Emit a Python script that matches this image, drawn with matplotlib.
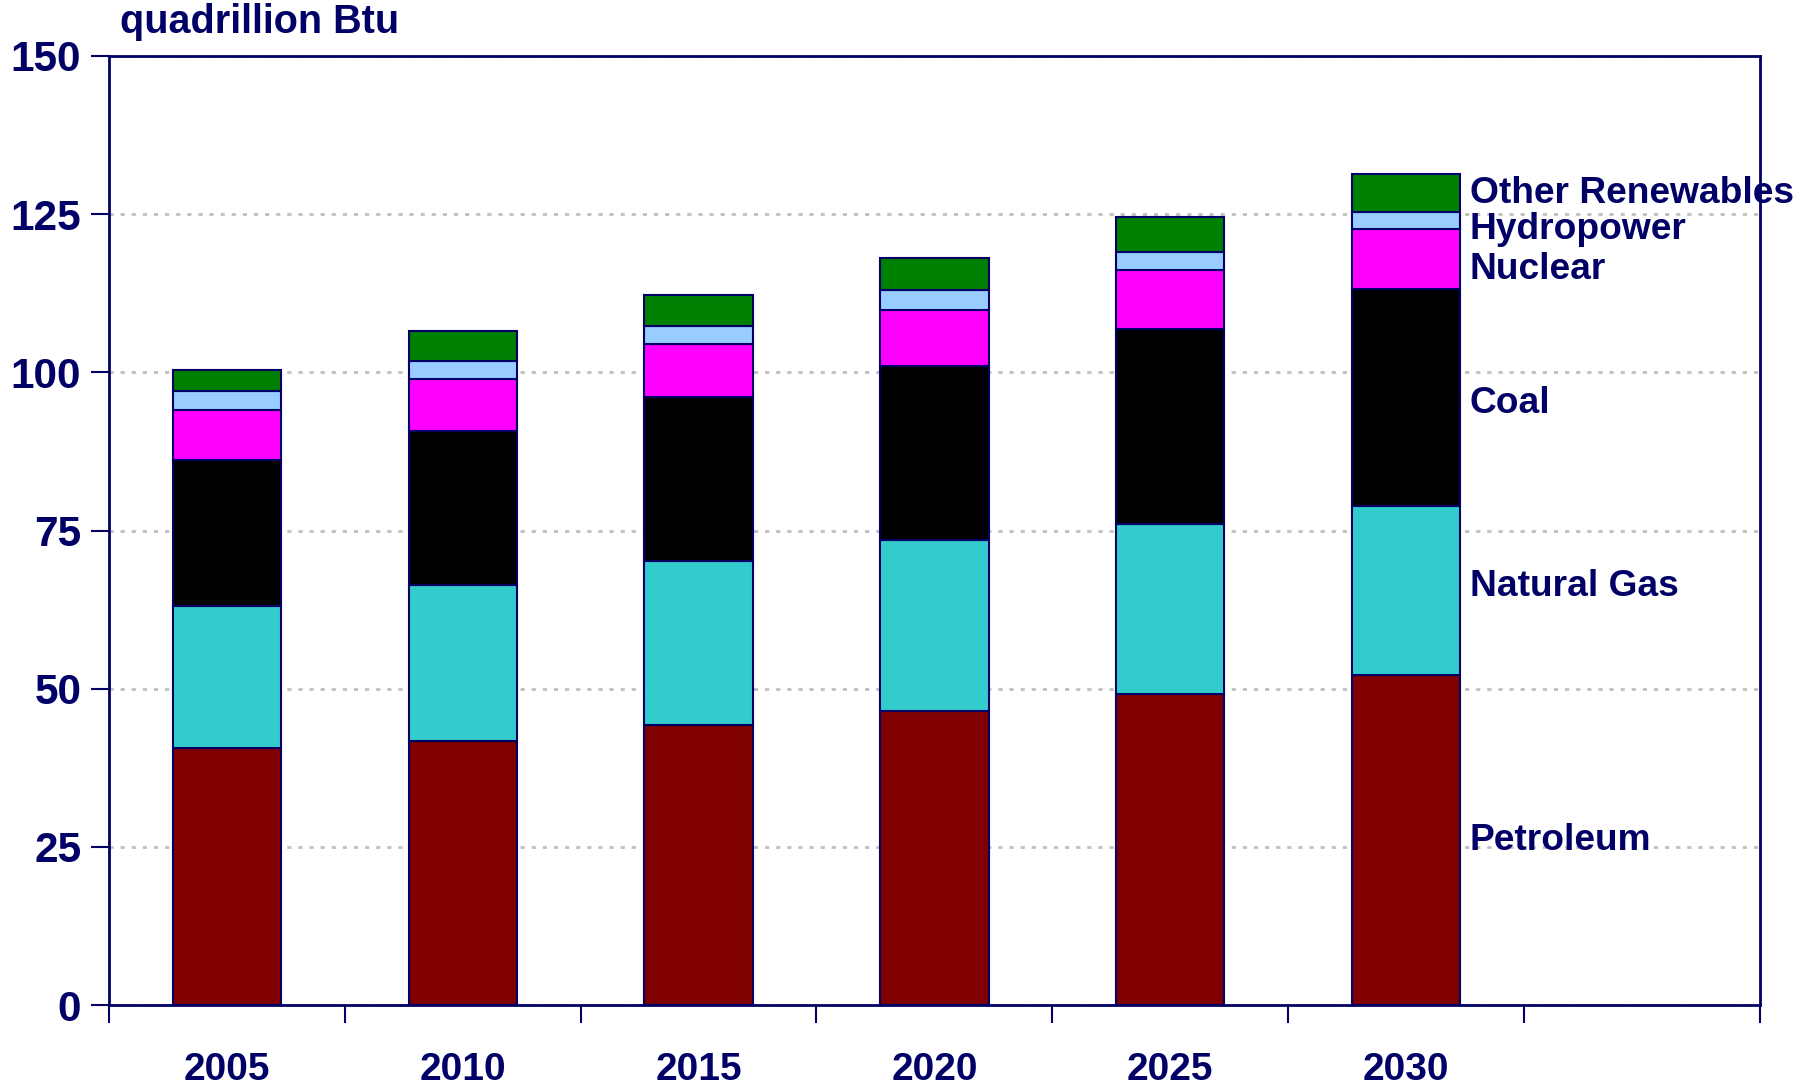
import matplotlib
matplotlib.use("Agg")
import matplotlib.pyplot as plt
import numpy as np

years = ["2005", "2010", "2015", "2020", "2025", "2030"]
fuels = ["Petroleum", "Natural Gas", "Coal", "Nuclear", "Hydropower", "Other Renewables"]
petroleum = [40.6, 41.7, 44.3, 46.4, 49.2, 52.2]
natural_gas = [22.5, 24.7, 25.9, 27.1, 26.8, 26.7]
coal = [23.1, 24.3, 25.9, 27.5, 30.8, 34.3]
nuclear = [7.9, 8.2, 8.4, 8.9, 9.3, 9.4]
hydropower = [2.9, 2.9, 2.9, 3.1, 2.9, 2.7]
other_renewables = [3.3, 4.7, 4.9, 5.1, 5.6, 6.0]
colors = ["#800000", "#33CCCC", "#000000", "#FF00FF", "#99CCFF", "#008000"]
# label heights (data units) for the names right of the last bar
label_y = [26.0, 66.2, 95.1, 116.3, 122.6, 128.3]

navy = "#000066"
plt.rcParams["font.family"] = ["Liberation Sans", "DejaVu Sans"]
plt.rcParams["font.weight"] = "bold"

fig = plt.figure(figsize=(18, 10.85), dpi=100)
ax = fig.add_axes([0.0606, 0.0737, 0.917, 0.8747])

x = np.arange(len(years))
series = [petroleum, natural_gas, coal, nuclear, hydropower, other_renewables]
bottom = np.zeros(len(years))
for vals, col in zip(series, colors):
    ax.bar(x, vals, width=0.46, bottom=bottom, color=col,
           edgecolor=navy, linewidth=1.5, zorder=3)
    bottom += np.array(vals)

for name, yy in zip(fuels, label_y):
    ax.text(x[-1] + 0.27, yy, name, ha="left", va="center",
            fontsize=26.7, fontweight="bold", color=navy, zorder=4)

ax.set_xlim(-0.5, 6.5)
ax.set_ylim(0, 150)
ax.set_yticks(np.arange(0, 151, 25))
ax.set_xticks(x)
ax.set_xticklabels(years)
ax.set_xticks(np.arange(-0.5, 7, 1), minor=True)
ax.tick_params(axis="x", which="major", length=0, pad=34,
               labelsize=28, labelcolor=navy)
ax.tick_params(axis="x", which="minor", length=13, width=1.5,
               color=navy, direction="out")
ax.tick_params(axis="y", length=13, width=1.5, color=navy,
               direction="out", labelsize=30.5, labelcolor=navy, pad=7)
for lab in ax.get_xticklabels() + ax.get_yticklabels():
    lab.set_fontweight("bold")

ax.yaxis.grid(True, color="#C0C0C0", linewidth=2, linestyle=(0, (1.5, 2.5)), zorder=0)
ax.set_axisbelow(True)
for sp in ax.spines.values():
    sp.set_color(navy)
    sp.set_linewidth(2)

fig.text(0.0667, 0.962, "quadrillion Btu", ha="left", va="bottom",
         fontsize=28.5, fontweight="bold", color=navy)

fig.savefig("out.png", dpi=100)
